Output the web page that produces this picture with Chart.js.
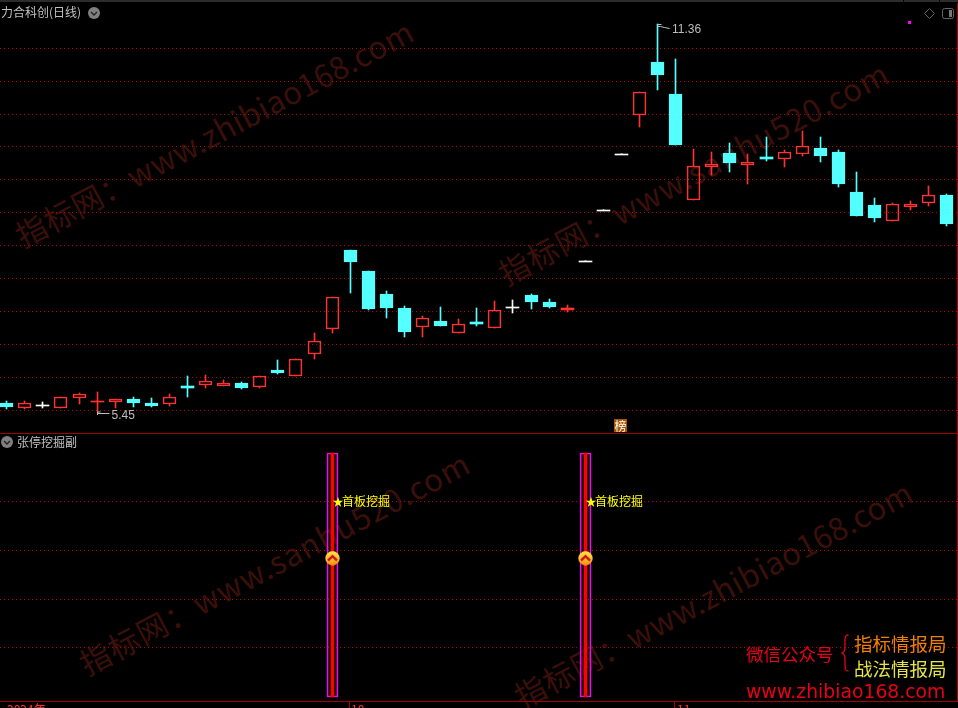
<!DOCTYPE html>
<html lang="zh">
<head>
<meta charset="utf-8">
<title>力合科创(日线)</title>
<script src="https://cdn.jsdelivr.net/npm/chart.js@4/dist/chart.umd.js"></script>
<style>
html,body{margin:0;padding:0;background:#000;width:958px;height:708px;overflow:hidden}
#stage{position:relative;width:958px;height:708px;overflow:hidden;background:#000;font-family:"Noto Sans CJK SC","Liberation Sans",sans-serif}
canvas{position:absolute;left:0;display:block}
.t{position:absolute;white-space:nowrap;line-height:1}
.wm{position:absolute;white-space:nowrap;color:#3b0f0a;font-size:31px;line-height:1;transform-origin:0 50%;transform:rotate(-28deg);letter-spacing:1px}
.wz{letter-spacing:.5px}
.ln{position:absolute;background:#a00000}
svg{position:absolute;overflow:visible}
</style>
</head>
<body>
<div id="stage">
  <div class="wm wz" style="left:17px;top:221px">指标网：www.zhibiao168.com</div>
  <div class="wm" style="left:500px;top:259px">指标网：www.sanhu520.com</div>
  <div class="wm" style="left:81px;top:649px">指标网：www.sanhu520.com</div>
  <div class="wm wz" style="left:516px;top:682px">指标网：www.zhibiao168.com</div>

  <canvas id="main" width="958" height="433" style="top:0"></canvas>
  <canvas id="sub" width="958" height="270" style="top:433px"></canvas>

  <div style="position:absolute;left:0;top:0;width:958px;height:2px;background:#2c2c2c"></div>
  <div style="position:absolute;left:903px;top:0;width:1px;height:2px;background:#000"></div>
  <div style="position:absolute;left:939px;top:0;width:1px;height:2px;background:#000"></div>
  <div class="ln" style="left:0;top:433px;width:958px;height:1px"></div>
  <div class="ln" style="left:0;top:701px;width:958px;height:1px"></div>
  <div class="ln" style="left:957px;top:3px;width:1px;height:699px"></div>
  <div class="ln" style="left:349px;top:702px;width:1px;height:6px"></div>
  <div class="ln" style="left:674px;top:702px;width:1px;height:6px"></div>

  <div class="t" style="left:1px;top:6px;font-size:12px;color:#c0c0c0">力合科创(日线)</div>
  <svg style="left:88px;top:7px" width="12" height="12"><circle cx="6" cy="6" r="6" fill="#808080"/><path d="M3 5 L6 8 L9 5" stroke="#222" stroke-width="1.4" fill="none"/></svg>
  <div class="t" style="left:17px;top:436px;font-size:12px;color:#c0c0c0">张停挖掘副</div>
  <svg style="left:1px;top:436px" width="12" height="12"><circle cx="6" cy="6" r="6" fill="#808080"/><path d="M3 5 L6 8 L9 5" stroke="#222" stroke-width="1.4" fill="none"/></svg>

  <svg style="left:924px;top:8px" width="12" height="12"><path d="M5.5 .5 L10.5 5.5 L5.5 10.5 L.5 5.5 Z" stroke="#666" fill="none"/></svg>
  <svg style="left:942px;top:8px" width="13" height="11"><rect x=".5" y=".5" width="11" height="10" rx="2" stroke="#666" fill="none"/><rect x="7" y="2" width="3" height="7" fill="#777"/></svg>
  <div style="position:absolute;left:908px;top:21px;width:3px;height:3px;background:#ff00ff"></div>

  <div class="t" style="left:614px;top:419px;width:13px;height:13px;background:#a85400;color:#fff;font-size:12px;line-height:13px;text-align:center">榜</div>

  <div class="t" style="left:7px;top:703px;font-size:12px;color:#ff3232">2024年</div>
  <div class="t" style="left:351px;top:703px;font-size:12px;color:#ff3232">10</div>
  <div class="t" style="left:677px;top:703px;font-size:12px;color:#ff3232">11</div>

  <div class="t" style="left:746px;top:645px;font-size:17.5px;color:#e80018">微信公众号</div>
  <svg style="left:841px;top:634px" width="10" height="38"><path d="M7.5 1 C4 1 4 3 4 8 L4 14 C4 17 3 18 1 19 C3 20 4 21 4 24 L4 30 C4 35 4 37 7.5 37" stroke="#e80018" stroke-width="1.3" fill="none"/></svg>
  <div class="t" style="left:854px;top:634px;font-size:18.5px;color:#f08000">指标情报局</div>
  <div class="t" style="left:854px;top:659px;font-size:18.5px;color:#e4e448">战法情报局</div>
  <div class="t" style="left:746px;top:683px;font-size:18.8px;color:#e80018;font-family:'DejaVu Sans',sans-serif">www.zhibiao168.com</div>
</div>

<script>
// Daily candles, oldest first
const opens  = [5.54,5.49,5.52,5.49,5.596,5.555,5.554,5.583,5.541,5.533,5.722,5.736,5.725,5.754,5.715,5.898,5.835,6.082,6.377,7.402,7.114,6.81,6.632,6.397,6.471,6.325,6.459,6.385,6.645,6.797,6.708,6.607,7.245,7.98,8.873,9.564,10.568,9.947,8.142,8.667,8.895,8.695,8.828,8.80,8.883,8.98,8.912,8.262,8.06,7.825,8.035,8.096,8.215];
const highs  = [5.56,5.56,5.55,5.60,5.642,5.658,5.58,5.604,5.593,5.636,5.831,5.842,5.784,5.765,5.828,6.01,6.018,6.326,6.768,7.402,7.114,6.849,6.657,6.532,6.645,6.495,6.632,6.72,6.733,6.81,6.746,6.67,7.245,7.98,8.873,9.978,11.36,10.622,8.958,8.907,9.06,8.873,9.164,8.946,9.268,9.164,8.946,8.58,8.168,8.091,8.117,8.352,8.23];
const lows   = [5.48,5.48,5.49,5.49,5.533,5.45,5.488,5.499,5.499,5.512,5.604,5.70,5.725,5.69,5.70,5.854,5.835,6.025,6.329,6.827,6.607,6.508,6.277,6.277,6.409,6.325,6.409,6.385,6.57,6.62,6.632,6.582,7.245,7.98,8.873,9.35,10.022,9.03,8.142,8.537,8.58,8.392,8.761,8.667,8.845,8.745,8.34,7.894,7.806,7.825,7.985,8.045,7.747];
const closes = [5.50,5.54,5.52,5.60,5.632,5.56,5.58,5.541,5.51,5.60,5.70,5.773,5.751,5.70,5.828,5.865,6.018,6.23,6.768,7.235,6.62,6.632,6.337,6.508,6.409,6.434,6.434,6.607,6.645,6.708,6.645,6.632,7.245,7.98,8.873,9.978,10.316,9.03,8.673,8.712,8.728,8.74,8.795,8.907,9.009,8.845,8.387,7.894,7.865,8.071,8.071,8.21,7.776];
// Horizontal price guide levels of the log-scaled price panel
const priceLevels = [5.461,5.817,6.192,6.591,7.016,7.468,7.949,8.462,9.007,9.569,10.186,10.843];
const priceRange = [5.235,11.88];
const lowMark = {index:5,value:5.45,label:"5.45"};
const highMark = {index:36,value:11.36,label:"11.36"};
// Indicator panel
const signalIndexes = [18,32];
const signalTop = 100;
const signalMarkerValue = 56.8;
const signalLabelValue = 80;
const signalLabel = "首板挖掘";
const signalLevels = [20,40,60,80];
const signalRange = [-2.6,108.2];
const xRange = [-0.343,52.644];

const RED="#ff3232", CYAN="#54ffff", WHITE="#ffffff", GRID="#c00000";
const idx = opens.map((_,i)=>i);
const kind = i => closes[i]>opens[i] ? "up" : closes[i]<opens[i] ? "down" : "flat";
const colorOf = i => ({up:RED,down:CYAN,flat:WHITE})[kind(i)];
// Bodies only a pixel or two tall are drawn solid, with no outline
const thin = i => Math.abs(closes[i]-opens[i])/opens[i] < 0.0039;

// Snap the bar elements to device pixels, for the crisp look of the reference
const snap = {
  id:"snap",
  afterDatasetsUpdate(chart){
    chart.data.datasets.forEach((ds,d)=>{
      chart.getDatasetMeta(d).data.forEach(el=>{
        el.x=Math.round(el.x)+0.5;
        if(ds.type==="scatter") return;
        const t=Math.round(Math.min(el.y,el.base)), b=Math.round(Math.max(el.y,el.base));
        el.y=t; el.base=(ds.solidMin && b===t)? t+1 : b;
      });
    });
  }
};

const marks = {
  id:"marks",
  afterDatasetsDraw(chart){
    const {ctx,scales:{x,y}}=chart;
    ctx.save();
    ctx.strokeStyle="#bdbdbd"; ctx.fillStyle="#bdbdbd"; ctx.lineWidth=1;
    ctx.font="12px 'Liberation Sans'"; ctx.textBaseline="middle";
    const lx=Math.round(x.getPixelForValue(lowMark.index))+0.5, ly=Math.round(y.getPixelForValue(lowMark.value));
    ctx.beginPath(); ctx.moveTo(lx,ly+1.5); ctx.lineTo(lx+12,ly+1.5);
    ctx.moveTo(lx,ly); ctx.lineTo(lx+3,ly); ctx.moveTo(lx,ly); ctx.lineTo(lx,ly+3); ctx.stroke();
    ctx.fillText(lowMark.label,lx+14,ly+3.5);
    const hx=Math.round(x.getPixelForValue(highMark.index))+0.5, hy=Math.round(y.getPixelForValue(highMark.value));
    ctx.beginPath(); ctx.moveTo(hx,hy+.5); ctx.lineTo(hx+4,hy+.5);
    ctx.moveTo(hx,hy+2.5); ctx.lineTo(hx+3,hy+2.5); ctx.lineTo(hx+7,hy+3.5); ctx.lineTo(hx+12,hy+4.5); ctx.stroke();
    ctx.fillText(highMark.label,hx+14.5,hy+5.5);
    ctx.restore();
  }
};

function gridScale(levels,range,type){
  return {
    type, position:"left", min:range[0], max:range[1], bounds:"data", offset:false,
    afterBuildTicks(s){ s.ticks=levels.map(v=>({value:v})); },
    ticks:{display:false},
    grid:{color:GRID,lineWidth:1,drawTicks:false,drawOnChartArea:true},
    border:{display:false,dash:[1,3]}
  };
}
const xScale = {type:"linear",min:xRange[0],max:xRange[1],display:false,offset:false};
const base = {responsive:false,animation:false,events:[],layout:{padding:0,autoPadding:false},
  plugins:{legend:{display:false},tooltip:{enabled:false}},datasets:{bar:{grouped:false}}};

new Chart(document.getElementById("main"),{
  type:"bar",
  data:{datasets:[
    {label:"上影线",barThickness:1,order:2,borderWidth:0,backgroundColor:idx.map(colorOf),
      data:idx.map(i=>({x:i,y:[Math.max(opens[i],closes[i]),highs[i]]}))},
    {label:"下影线",barThickness:1,order:2,borderWidth:0,backgroundColor:idx.map(colorOf),
      data:idx.map(i=>({x:i,y:[lows[i],Math.min(opens[i],closes[i])]}))},
    {label:"实体",barThickness:13,order:1,solidMin:true,borderSkipped:false,
      borderWidth:idx.map(i=>thin(i)?0:1),
      borderColor:idx.map(colorOf),
      backgroundColor:idx.map(i=>(kind(i)==="up"&&!thin(i))?"rgba(0,0,0,0)":colorOf(i)),
      data:idx.map(i=>({x:i,y:[opens[i],closes[i]]}))}
  ]},
  options:{...base,scales:{x:xScale,y:gridScale(priceLevels,priceRange,"logarithmic")}},
  plugins:[snap,marks]
});

// Gold round marker with a red chevron
const marker=document.createElement("canvas");
marker.width=15;marker.height=15;
(function(){
  const c=marker.getContext("2d");
  const g=c.createLinearGradient(0,0,0,15);
  g.addColorStop(0,"#ffe94a");g.addColorStop(.5,"#ffc030");g.addColorStop(1,"#ff8a10");
  c.fillStyle=g;c.beginPath();c.arc(7.5,7.5,7.2,0,Math.PI*2);c.fill();
  c.strokeStyle="#c81414";c.lineWidth=2.4;c.beginPath();c.moveTo(3,9.6);c.lineTo(7.5,5.4);c.lineTo(12,9.6);c.stroke();
})();

const signalText = {
  id:"signalText",
  afterDatasetsDraw(chart){
    const {ctx,scales:{x,y}}=chart;
    ctx.save();
    ctx.fillStyle="#ffff00";ctx.textBaseline="middle";
    signalIndexes.forEach(i=>{
      const px=Math.round(x.getPixelForValue(i))+0.5, py=y.getPixelForValue(signalLabelValue);
      ctx.font="11px 'Noto Sans CJK SC'"; ctx.fillText("★",px,py);
      ctx.font="12px 'Noto Sans CJK SC'"; ctx.fillText(signalLabel,px+9.5,py);
    });
    ctx.restore();
  }
};

new Chart(document.getElementById("sub"),{
  type:"bar",
  data:{datasets:[
    {type:"scatter",label:"标记",order:0,pointStyle:marker,pointRadius:7,
      data:signalIndexes.map(i=>({x:i,y:signalMarkerValue}))},
    {label:"红柱",barThickness:3,order:1,backgroundColor:"#ff0000",borderWidth:0,
      data:signalIndexes.map(i=>({x:i,y:[0,signalTop]}))},
    {label:"紫框",barThickness:11,order:2,borderColor:"#ff00ff",backgroundColor:"rgba(0,0,0,0)",borderWidth:1,borderSkipped:false,
      data:signalIndexes.map(i=>({x:i,y:[0,signalTop]}))}
  ]},
  options:{...base,scales:{x:xScale,y:gridScale(signalLevels,signalRange,"linear")}},
  plugins:[snap,signalText]
});
</script>
</body>
</html>
